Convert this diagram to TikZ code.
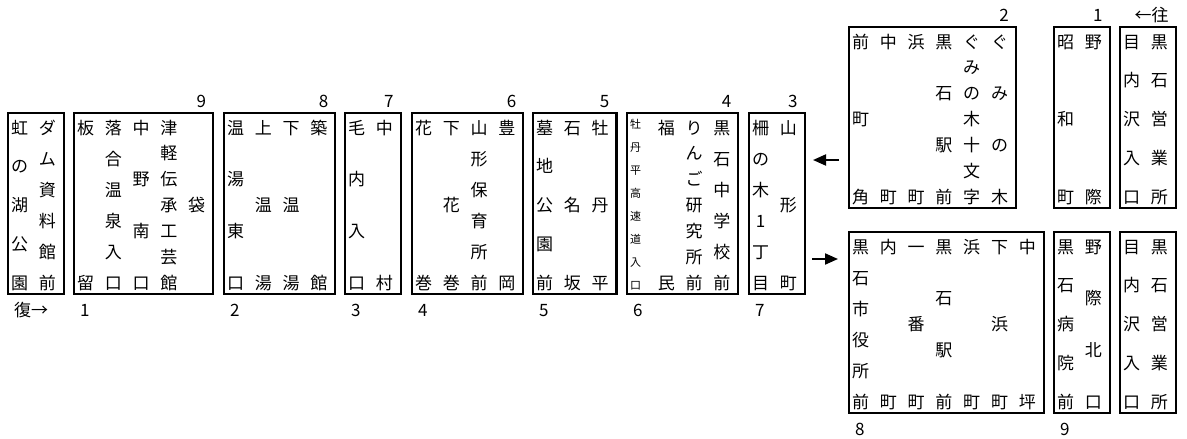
\documentclass[tikz,border=0pt]{standalone}
\usepackage{fontspec}
\newfontfamily\goth{Noto Sans CJK JP}
\usetikzlibrary{arrows.meta}
\newcommand\tatechar[1]{\hbox to 1em{\hss\vrule height .88em depth .12em width 0pt\relax#1\hss}}
\def\tateloop#1{\ifx\relax#1\else\tatesep\tatechar{#1}\def\tatesep{\vfill}\expandafter\tateloop\fi}
\newcommand\tate[1]{\vbox to 172pt{\offinterlineskip\def\tatesep{}\vskip 0pt plus .001fil\expandafter\tateloop#1\relax\vskip 0pt plus .001fil}}
\begin{document}
\begin{tikzpicture}[x=1pt,y=-1pt,font=\goth\fontsize{17pt}{20pt}\selectfont,
    waku/.style={draw,line width=2.2pt,inner sep=0pt,minimum height=181pt,anchor=north west},
    col/.style={inner sep=0pt,yshift=-1.5pt},
    ue/.style={inner sep=0pt,anchor=base east,xshift=-8pt,yshift=5pt},
    shita/.style={inner sep=0pt,anchor=base west,xshift=7pt,yshift=-21pt},
    yaji/.style={line width=2pt,-{Triangle[length=13pt,width=11pt]}}]
      \useasboundingbox (0,0) rectangle (1187,439);
      \node[waku,minimum width=55.6] (b1) at (7,112) {};
      \node[waku,minimum width=139] (b2) at (73,112) {};
      \node[waku,minimum width=111.2] (b3) at (223,112) {};
      \node[waku,minimum width=55.6] (b4) at (344,112) {};
      \node[waku,minimum width=111.2] (b5) at (411,112) {};
      \node[waku,minimum width=83.4] (b6) at (532,112) {};
      \node[waku,minimum width=111.2] (b7) at (626,112) {};
      \node[waku,minimum width=55.6] (b8) at (748,112) {};
      \node[waku,minimum width=166.8] (t1) at (848,26) {};
      \node[waku,minimum width=55.6] (t2) at (1053,26) {};
      \node[waku,minimum width=55.6] (t3) at (1119,26) {};
      \node[waku,minimum width=194.6] (l1) at (848,231) {};
      \node[waku,minimum width=55.6] (l2) at (1053,231) {};
      \node[waku,minimum width=55.6] (l3) at (1119,231) {};
      \foreach \ekimei [count=\k from 0] in {虹の湖公園,ダム資料館前}
        \node[col] (b1-\k) at ([xshift=12.5+27.8*\k]b1.west) {\tate{\ekimei}};
      \foreach \ekimei [count=\k from 0] in {板留,落合温泉入口,中野南口,津軽伝承工芸館,袋}
        \node[col] (b2-\k) at ([xshift=12.5+27.8*\k]b2.west) {\tate{\ekimei}};
      \foreach \ekimei [count=\k from 0] in {温湯東口,上温湯,下温湯,築館}
        \node[col] (b3-\k) at ([xshift=12.5+27.8*\k]b3.west) {\tate{\ekimei}};
      \foreach \ekimei [count=\k from 0] in {毛内入口,中村}
        \node[col] (b4-\k) at ([xshift=12.5+27.8*\k]b4.west) {\tate{\ekimei}};
      \foreach \ekimei [count=\k from 0] in {花巻,下花巻,山形保育所前,豊岡}
        \node[col] (b5-\k) at ([xshift=12.5+27.8*\k]b5.west) {\tate{\ekimei}};
      \foreach \ekimei [count=\k from 0] in {墓地公園前,石名坂,牡丹平}
        \node[col] (b6-\k) at ([xshift=12.5+27.8*\k]b6.west) {\tate{\ekimei}};
      \node[col,font=\goth\fontsize{11pt}{12pt}\selectfont] (b7-0) at ([xshift=9.5]b7.west) {\tate{牡丹平高速道入口}};
      \foreach \ekimei [count=\k] in {福民,りんご研究所前,黒石中学校前}
        \node[col] (b7-\k) at ([xshift=12.5+27.8*\k]b7.west) {\tate{\ekimei}};
      \foreach \ekimei [count=\k from 0] in {柵の木1丁目,山形町}
        \node[col] (b8-\k) at ([xshift=12.5+27.8*\k]b8.west) {\tate{\ekimei}};
      \foreach \ekimei [count=\k from 0] in {前町角,中町,浜町,黒石駅前,ぐみの木十文字,ぐみの木}
        \node[col] (t1-\k) at ([xshift=12.5+27.8*\k]t1.west) {\tate{\ekimei}};
      \foreach \ekimei [count=\k from 0] in {昭和町,野際}
        \node[col] (t2-\k) at ([xshift=12.5+27.8*\k]t2.west) {\tate{\ekimei}};
      \foreach \ekimei [count=\k from 0] in {目内沢入口,黒石営業所}
        \node[col] (t3-\k) at ([xshift=12.5+27.8*\k]t3.west) {\tate{\ekimei}};
      \foreach \ekimei [count=\k from 0] in {黒石市役所前,内町,一番町,黒石駅前,浜町,下浜町,中坪}
        \node[col] (l1-\k) at ([xshift=12.5+27.8*\k]l1.west) {\tate{\ekimei}};
      \foreach \ekimei [count=\k from 0] in {黒石病院前,野際北口}
        \node[col] (l2-\k) at ([xshift=12.5+27.8*\k]l2.west) {\tate{\ekimei}};
      \foreach \ekimei [count=\k from 0] in {目内沢入口,黒石営業所}
        \node[col] (l3-\k) at ([xshift=12.5+27.8*\k]l3.west) {\tate{\ekimei}};
      \node[ue] (u9) at (b2.north east) {9};
      \node[ue] (u8) at (b3.north east) {8};
      \node[ue] (u7) at (b4.north east) {7};
      \node[ue] (u6) at (b5.north east) {6};
      \node[ue] (u5) at (b6.north east) {5};
      \node[ue] (u4) at (b7.north east) {4};
      \node[ue] (u3) at (b8.north east) {3};
      \node[ue] (u2) at (t1.north east) {2};
      \node[ue] (u1) at (t2.north east) {1};
      \node[ue] (yuki) at (t3.north east) {←往};
      \node[shita] (fuku) at (b1.south west) {復→};
      \node[shita] (s1) at (b2.south west) {1};
      \node[shita] (s2) at (b3.south west) {2};
      \node[shita] (s3) at (b4.south west) {3};
      \node[shita] (s4) at (b5.south west) {4};
      \node[shita] (s5) at (b6.south west) {5};
      \node[shita] (s6) at (b7.south west) {6};
      \node[shita] (s7) at (b8.south west) {7};
      \node[shita] (s8) at (l1.south west) {8};
      \node[shita] (s9) at (l2.south west) {9};
      \coordinate (kaeri-a) at (839,160);
      \coordinate (kaeri-b) at (813,160);
      \coordinate (iki-a) at (812,259);
      \coordinate (iki-b) at (838,259);
      \draw[yaji] (kaeri-a) -- (kaeri-b);
      \draw[yaji] (iki-a) -- (iki-b);
    \end{tikzpicture}
\end{document}
